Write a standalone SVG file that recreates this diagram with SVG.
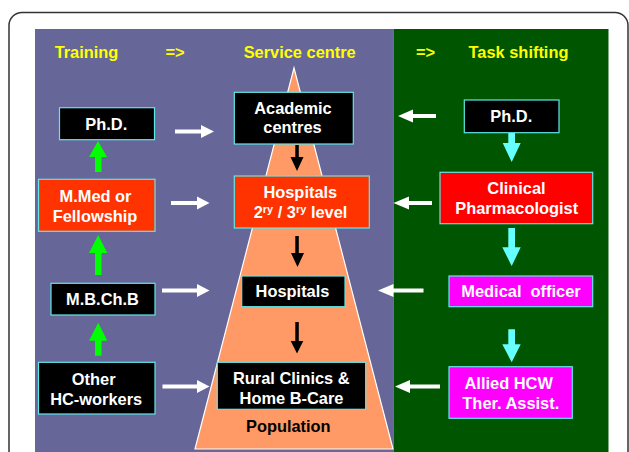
<svg xmlns="http://www.w3.org/2000/svg" width="629" height="452" viewBox="0 0 629 452">
<style>
text{font-family:"Liberation Sans",Arial,sans-serif;font-weight:bold;font-size:16.4px;text-anchor:middle}
.h{fill:#ffff00}
.w{fill:#ffffff}
.k{fill:#000000}
.box{stroke:#5fe8e8;stroke-width:1.2}
.wa{fill:#ffffff}
.ga{fill:#00ff00}
.ba{fill:#000000}
.ca{fill:#66ffff}
</style>
<rect x="9" y="12.5" width="619" height="480" rx="13" fill="#ffffff" stroke="#333333" stroke-width="1.5"/>
<rect x="35" y="29" width="358.5" height="423" fill="#666699"/>
<rect x="393.5" y="29" width="215" height="423" fill="#005500"/>
<polygon points="294,68 195,449 393,449" fill="#ff9966" stroke="#ffffff" stroke-width="1.2"/>
<g id="headings">
<text class="h" x="86.5" y="58">Training</text>
<text class="h" x="175" y="58">=&gt;</text>
<text class="h" x="299.7" y="58">Service centre</text>
<text class="h" x="425.5" y="58">=&gt;</text>
<text class="h" x="518.5" y="58">Task shifting</text>
</g>
<g id="connectors">
<polygon class="wa" points="175,129.5 201,129.5 201,125 214,131.5 201,138 201,133.5 175,133.5"/>
<polygon class="wa" points="171,201 197,201 197,196.5 209.5,203 197,209.5 197,205 171,205"/>
<polygon class="wa" points="162,288.5 197,288.5 197,284 209.5,290.5 197,297 197,292.5 162,292.5"/>
<polygon class="wa" points="162.5,384.5 197,384.5 197,380 209.5,386.5 197,393 197,388.5 162.5,388.5"/>
<polygon class="wa" points="436,114 413,114 413,109.5 398,116 413,122.5 413,118 436,118"/>
<polygon class="wa" points="432,201 409,201 409,196.5 393.5,203 409,209.5 409,205 432,205"/>
<polygon class="wa" points="423.5,288.5 393.5,288.5 393.5,284 378,290.5 393.5,297 393.5,292.5 423.5,292.5"/>
<polygon class="wa" points="440,384.5 410,384.5 410,380 395,386.5 410,393 410,388.5 440,388.5"/>
<polygon class="ga" points="95,172 95,157 89,157 98,141 107,157 101.5,157 101.5,172"/>
<polygon class="ga" points="95,275 95,253 89,253 98.2,235 107.3,253 101.5,253 101.5,275"/>
<polygon class="ga" points="95,355.7 95,340.7 89,340.7 98.2,322.7 107.3,340.7 101.5,340.7 101.5,355.7"/>
<polygon class="ba" points="295.3,145 298.8,145 298.8,157 303.5,157 297,171 290.5,157 295.3,157"/>
<polygon class="ba" points="295.3,236 298.8,236 298.8,253 304,253 297.5,267 291,253 295.3,253"/>
<polygon class="ba" points="295.3,322 298.8,322 298.8,341 303.3,341 297,353.5 290.7,341 295.3,341"/>
<polygon class="ca" points="508.3,133 515,133 515,143 520.7,143 511.7,162 502.7,143 508.3,143"/>
<polygon class="ca" points="508.3,228 515,228 515,247.3 520.7,247.3 511.7,266 502.3,247.3 508.3,247.3"/>
<polygon class="ca" points="508.3,329.3 515,329.3 515,344.3 520.7,344.3 511.7,362.3 502.3,344.3 508.3,344.3"/>
</g>
<g id="phd-left">
<rect class="box" x="59.5" y="107.7" width="95" height="32" fill="#000000"/>
<text class="w" x="106.3" y="130">Ph.D.</text>
</g>
<g id="mmed">
<rect class="box" x="38.5" y="179.3" width="116.5" height="52" fill="#ff3300"/>
<text class="w" x="95.5" y="202.3">M.Med or</text>
<text class="w" x="95" y="221.7">Fellowship</text>
</g>
<g id="mbchb">
<rect class="box" x="51" y="283.3" width="104" height="31.7" fill="#000000"/>
<text class="w" x="102.5" y="305">M.B.Ch.B</text>
</g>
<g id="other">
<rect class="box" x="38.5" y="362.3" width="116.5" height="51.7" fill="#000000"/>
<text class="w" x="93.7" y="385">Other</text>
<text class="w" x="96.2" y="405">HC-workers</text>
</g>
<g id="academic">
<rect class="box" x="234.3" y="92.3" width="119" height="51.7" fill="#000000"/>
<text class="w" x="293" y="114.3">Academic</text>
<text class="w" x="292.5" y="133.3">centres</text>
</g>
<g id="hospitals23">
<rect class="box" x="234.3" y="176" width="135" height="52" fill="#ff3300"/>
<text class="w" x="300.3" y="197.7">Hospitals</text>
<text class="w" x="300.5" y="217.7">2<tspan font-size="11" dy="-5">ry</tspan><tspan dy="5"> / 3</tspan><tspan font-size="11" dy="-5">ry</tspan><tspan dy="5"> level</tspan></text>
</g>
<g id="hospitals">
<rect class="box" x="241.7" y="276" width="103.3" height="30.7" fill="#000000"/>
<text class="w" x="292.5" y="297">Hospitals</text>
</g>
<g id="rural">
<rect class="box" x="217.3" y="362.3" width="148.4" height="47" fill="#000000"/>
<text class="w" x="291.3" y="384.3">Rural Clinics &amp;</text>
<text class="w" x="291.5" y="404.3">Home B-Care</text>
</g>
<g id="population">
<text class="k" x="288.3" y="432.3">Population</text>
</g>
<g id="phd-right">
<rect class="box" x="464.3" y="100" width="94.7" height="32.7" fill="#000000"/>
<text class="w" x="511.3" y="121.7">Ph.D.</text>
</g>
<g id="clinical">
<rect class="box" x="440" y="172.3" width="152.7" height="51.4" fill="#ff0000"/>
<text class="w" x="516.5" y="194">Clinical</text>
<text class="w" x="516.7" y="214">Pharmacologist</text>
</g>
<g id="medical">
<rect class="box" x="449" y="276" width="143.7" height="30.7" fill="#ff00ff"/>
<text class="w" x="521" y="297" xml:space="preserve">Medical  officer</text>
</g>
<g id="allied">
<rect class="box" x="449" y="366.7" width="123.3" height="51.6" fill="#ff00ff"/>
<text class="w" x="508.7" y="389">Allied HCW</text>
<text class="w" x="510.8" y="409">Ther. Assist.</text>
</g>
</svg>
